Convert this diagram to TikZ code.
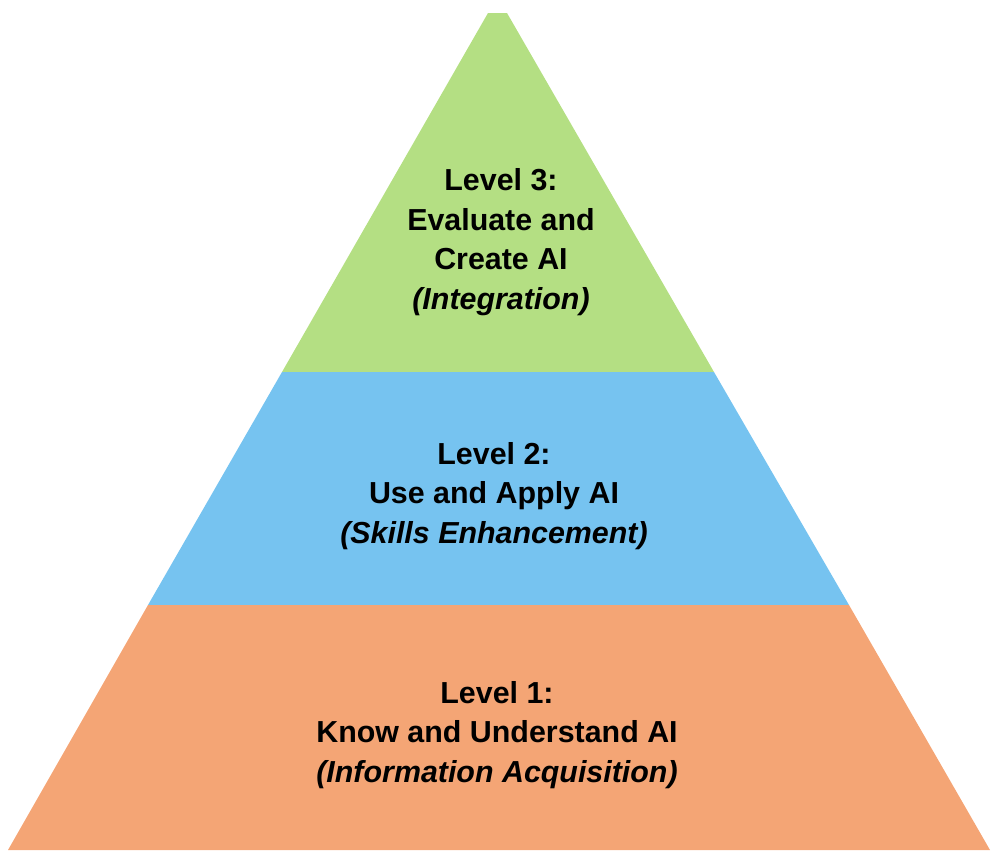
\documentclass[tikz,border=0pt]{standalone}
\usepackage{fontspec}
\setmainfont{Liberation Sans}
\usetikzlibrary{positioning}
\definecolor{lvlgreen}{RGB}{180,223,131}
\definecolor{lvlblue}{RGB}{118,195,240}
\definecolor{lvlorange}{RGB}{244,165,117}

\begin{document}
\begin{tikzpicture}[
  x=0.02cm, y=-0.02cm,
  band/.style={draw=none},
  lvl/.style={align=center, inner sep=0pt, text=black, font=\bfseries\fontsize{17.3}{22.5}\selectfont}
]
\useasboundingbox (0,0) rectangle (1000,859);
% pyramid bands, top to bottom
\fill[band, lvlgreen] (488,13) -- (507,13) -- (714,372) -- (282,372) -- cycle;
\fill[band, lvlblue] (282,372) -- (714,372) -- (849,605) -- (148,605) -- cycle;
\fill[band, lvlorange] (148,605) -- (849,605) -- (990,850) -- (8,850) -- cycle;

\node[lvl] (three) at (501,242) {Level 3:\\Evaluate and\\Create AI\\\textit{(Integration)}};
\node[lvl] (two) at (494,496) {Level 2:\\Use and Apply AI\\\textit{(Skills Enhancement)}};
\node[lvl] (one) at (497,735) {Level 1:\\Know and Understand AI\\\textit{(Information Acquisition)}};
\end{tikzpicture}
\end{document}
